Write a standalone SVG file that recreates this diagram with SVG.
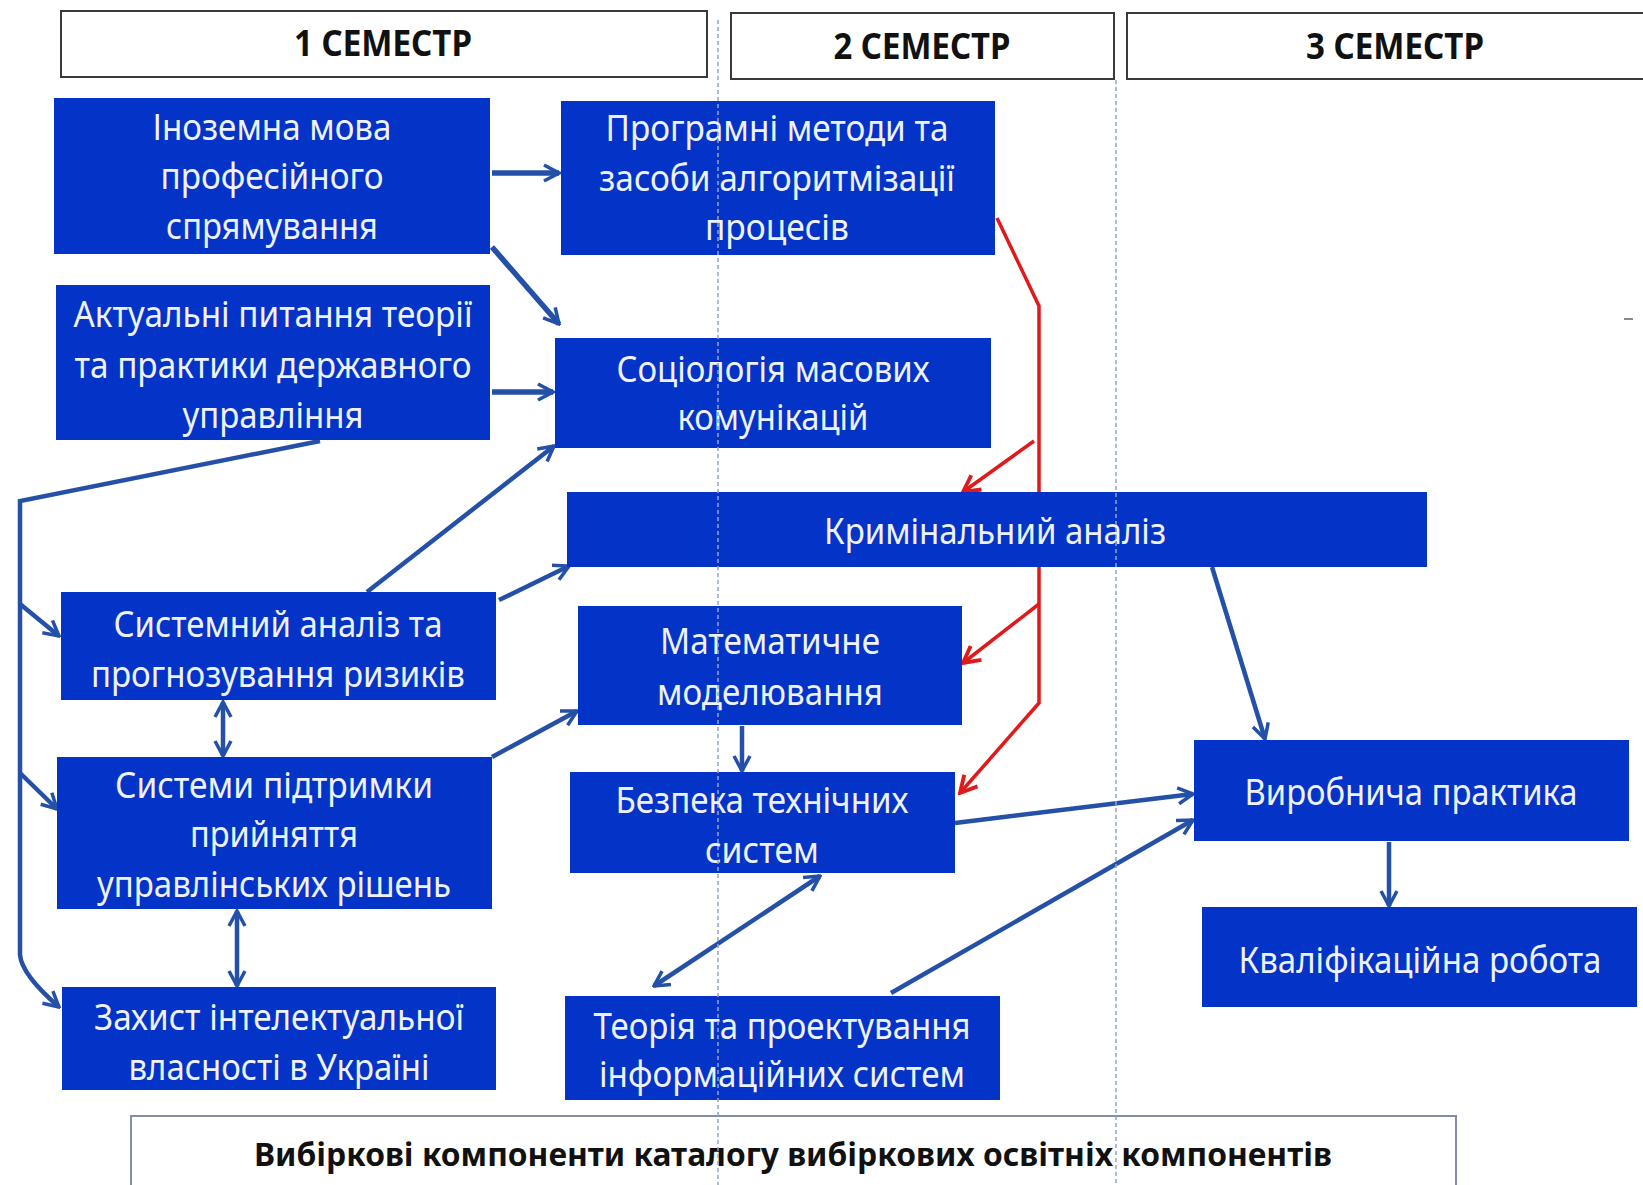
<svg xmlns="http://www.w3.org/2000/svg" width="1643" height="1185" viewBox="0 0 1643 1185">
<defs>
<style>
.node{fill:#0433c8;}
.nt{font-family:"Noto Sans","Liberation Sans",sans-serif;font-size:37px;fill:#eef2f8;text-anchor:middle;}
.hdr{fill:#ffffff;stroke:#3a3a3a;stroke-width:2;}
.ht{font-family:"Noto Sans","Liberation Sans",sans-serif;font-size:35px;font-weight:bold;fill:#111111;text-anchor:middle;}
.cb{fill:none;stroke:#2450a8;stroke-width:4.5;}
.cr{fill:none;stroke:#e0191b;stroke-width:3.5;}
.guide{fill:none;stroke:#8fa6c6;stroke-width:1.5;stroke-dasharray:4 3;}
</style>
<marker id="ab" viewBox="0 0 20 20" refX="18" refY="10" markerWidth="20" markerHeight="20" markerUnits="userSpaceOnUse" orient="auto-start-reverse"><path d="M3,2 L18,10 L3,18" fill="none" stroke="#2450a8" stroke-width="3.5"/></marker>
<marker id="ar" viewBox="0 0 20 20" refX="18" refY="10" markerWidth="22" markerHeight="22" markerUnits="userSpaceOnUse" orient="auto"><path d="M3,2 L18,10 L3,18" fill="none" stroke="#e0191b" stroke-width="3.5"/></marker>
</defs>
<rect width="1643" height="1185" fill="#ffffff"/>

<g id="headers">
<g id="h1"><rect class="hdr" x="61" y="11" width="646" height="66"/><text class="ht" x="383" y="56" textLength="178" lengthAdjust="spacingAndGlyphs">1 СЕМЕСТР</text></g>
<g id="h2"><rect class="hdr" x="731" y="13" width="383" height="66"/><text class="ht" x="922" y="59" textLength="177" lengthAdjust="spacingAndGlyphs">2 СЕМЕСТР</text></g>
<g id="h3"><rect class="hdr" x="1127" y="13" width="530" height="66"/><text class="ht" x="1395" y="59" textLength="178" lengthAdjust="spacingAndGlyphs">3 СЕМЕСТР</text></g>
</g>

<g id="connectors">
<path class="cr" d="M997,218 L1039,306 L1039,703 L960,793" marker-end="url(#ar)"/>
<path class="cr" d="M1034,441 L963,492" marker-end="url(#ar)"/>
<path class="cr" d="M1039,604 L963,663" marker-end="url(#ar)"/>

<path class="cb" d="M492,173 L559,173" marker-end="url(#ab)" style="stroke-width:5.5"/>
<path class="cb" d="M492,247 L559,324" marker-end="url(#ab)" style="stroke-width:5.5"/>
<path class="cb" d="M492,392 L553,392" marker-end="url(#ab)" style="stroke-width:5.5"/>
<path class="cb" d="M320,441 L20,501 L20,955 Q22,975 59,1007" marker-end="url(#ab)"/>
<path class="cb" d="M20,604 L59,636" marker-end="url(#ab)"/>
<path class="cb" d="M20,773 L57,809" marker-end="url(#ab)"/>
<path class="cb" d="M367,592 L554,446" marker-end="url(#ab)"/>
<path class="cb" d="M499,600 L569,566" marker-end="url(#ab)"/>
<path class="cb" d="M223,702 L223,756" marker-start="url(#ab)" marker-end="url(#ab)"/>
<path class="cb" d="M492,757 L577,711" marker-end="url(#ab)"/>
<path class="cb" d="M237,911 L237,986" marker-start="url(#ab)" marker-end="url(#ab)"/>
<path class="cb" d="M742,726 L742,771" marker-end="url(#ab)"/>
<path class="cb" d="M1212,567 L1265,739" marker-end="url(#ab)"/>
<path class="cb" d="M955,823 L1193,794" marker-end="url(#ab)"/>
<path class="cb" d="M891,993 L1193,820" marker-end="url(#ab)"/>
<path class="cb" d="M820,876 L654,986" marker-start="url(#ab)" marker-end="url(#ab)"/>
<path class="cb" d="M1389,842 L1389,906" marker-end="url(#ab)"/>
</g>

<g id="n1"><rect class="node" x="54" y="98" width="436" height="156"/>
<text class="nt" x="272" y="140" textLength="239" lengthAdjust="spacingAndGlyphs">Іноземна мова</text>
<text class="nt" x="272" y="189" textLength="223" lengthAdjust="spacingAndGlyphs">професійного</text>
<text class="nt" x="272" y="239" textLength="212" lengthAdjust="spacingAndGlyphs">спрямування</text></g>

<g id="n2"><rect class="node" x="561" y="101" width="434" height="154"/>
<text class="nt" x="777" y="141" textLength="343" lengthAdjust="spacingAndGlyphs">Програмні методи та</text>
<text class="nt" x="777" y="191" textLength="356" lengthAdjust="spacingAndGlyphs">засоби алгоритмізації</text>
<text class="nt" x="777" y="240" textLength="144" lengthAdjust="spacingAndGlyphs">процесів</text></g>

<g id="n3"><rect class="node" x="56" y="285" width="434" height="155"/>
<text class="nt" x="273" y="327" textLength="399" lengthAdjust="spacingAndGlyphs">Актуальні питання теорії</text>
<text class="nt" x="273" y="378" textLength="397" lengthAdjust="spacingAndGlyphs">та практики державного</text>
<text class="nt" x="273" y="428" textLength="181" lengthAdjust="spacingAndGlyphs">управління</text></g>

<g id="n4"><rect class="node" x="555" y="338" width="436" height="110"/>
<text class="nt" x="773" y="382" textLength="313" lengthAdjust="spacingAndGlyphs">Соціологія масових</text>
<text class="nt" x="773" y="430" textLength="191" lengthAdjust="spacingAndGlyphs">комунікацій</text></g>

<g id="n5"><rect class="node" x="567" y="492" width="860" height="75"/>
<text class="nt" x="995" y="544" textLength="342" lengthAdjust="spacingAndGlyphs">Кримінальний аналіз</text></g>

<g id="n6"><rect class="node" x="61" y="592" width="435" height="108"/>
<text class="nt" x="278" y="637" textLength="329" lengthAdjust="spacingAndGlyphs">Системний аналіз та</text>
<text class="nt" x="278" y="687" textLength="374" lengthAdjust="spacingAndGlyphs">прогнозування ризиків</text></g>

<g id="n7"><rect class="node" x="578" y="606" width="384" height="119"/>
<text class="nt" x="770" y="654" textLength="220" lengthAdjust="spacingAndGlyphs">Математичне</text>
<text class="nt" x="770" y="705" textLength="226" lengthAdjust="spacingAndGlyphs">моделювання</text></g>

<g id="n8"><rect class="node" x="57" y="757" width="435" height="152"/>
<text class="nt" x="274" y="798" textLength="318" lengthAdjust="spacingAndGlyphs">Системи підтримки</text>
<text class="nt" x="274" y="847" textLength="168" lengthAdjust="spacingAndGlyphs">прийняття</text>
<text class="nt" x="274" y="897" textLength="354" lengthAdjust="spacingAndGlyphs">управлінських рішень</text></g>

<g id="n9"><rect class="node" x="570" y="772" width="385" height="101"/>
<text class="nt" x="762" y="813" textLength="293" lengthAdjust="spacingAndGlyphs">Безпека технічних</text>
<text class="nt" x="762" y="863" textLength="114" lengthAdjust="spacingAndGlyphs">систем</text></g>

<g id="n10"><rect class="node" x="1194" y="740" width="435" height="101"/>
<text class="nt" x="1411" y="805" textLength="333" lengthAdjust="spacingAndGlyphs">Виробнича практика</text></g>

<g id="n11"><rect class="node" x="1202" y="907" width="435" height="100"/>
<text class="nt" x="1420" y="973" textLength="363" lengthAdjust="spacingAndGlyphs">Кваліфікаційна робота</text></g>

<g id="n12"><rect class="node" x="62" y="987" width="434" height="103"/>
<text class="nt" x="279" y="1030" textLength="370" lengthAdjust="spacingAndGlyphs">Захист інтелектуальної</text>
<text class="nt" x="279" y="1080" textLength="301" lengthAdjust="spacingAndGlyphs">власності в Україні</text></g>

<g id="n13"><rect class="node" x="565" y="996" width="435" height="104"/>
<text class="nt" x="782" y="1039" textLength="377" lengthAdjust="spacingAndGlyphs">Теорія та проектування</text>
<text class="nt" x="782" y="1087" textLength="366" lengthAdjust="spacingAndGlyphs">інформаційних систем</text></g>

<g id="footer"><rect x="131" y="1116" width="1325" height="80" fill="#ffffff" stroke="#7f8fa8" stroke-width="2"/>
<text class="ht" x="793" y="1166" style="font-size:32px" textLength="1078" lengthAdjust="spacingAndGlyphs">Вибіркові компоненти каталогу вибіркових освітніх компонентів</text></g>

<g id="guides">
<line class="guide" x1="718" y1="20" x2="718" y2="1185"/>
<line class="guide" x1="1116" y1="80" x2="1116" y2="1185"/>
</g>
<line x1="1624" y1="319" x2="1633" y2="319" stroke="#8a8a8a" stroke-width="2"/>
</svg>
